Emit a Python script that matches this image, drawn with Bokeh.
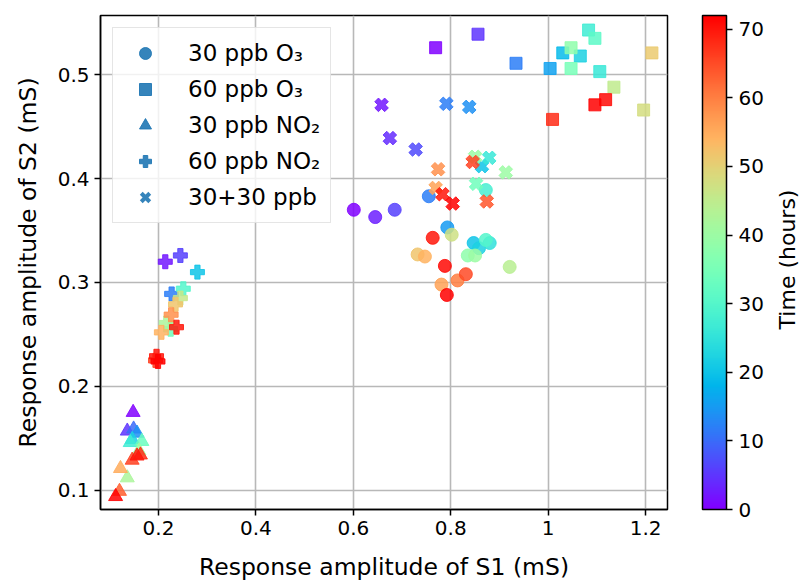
import numpy as np
from bokeh.plotting import figure
from bokeh.models import (ColumnDataSource, LinearColorMapper, ColorBar, FixedTicker,
                          Range1d, Legend, LegendItem, Title, Label)
from bokeh.transform import transform
from bokeh.embed import file_html
from bokeh.resources import INLINE

FONT = "DejaVu Sans"

# ---- data (S1, S2 in mS; time in hours) ----
o3_30_s1 = [0.601, 0.645, 0.685, 0.755, 0.793, 0.847, 0.858, 0.880, 0.872, 0.872, 0.835, 0.850, 0.921, 0.802, 0.732, 0.747, 0.781, 0.814, 0.831, 0.763, 0.788, 0.792]
o3_30_s2 = [0.370, 0.363, 0.370, 0.383, 0.353, 0.338, 0.333, 0.338, 0.389, 0.341, 0.326, 0.326, 0.315, 0.346, 0.327, 0.325, 0.298, 0.302, 0.308, 0.343, 0.316, 0.288]
o3_30_t = [0, 3, 6, 12, 15, 20, 22, 25, 28, 30, 38, 40, 44, 47, 52, 54, 56, 60, 65, 70, 71, 72]

o3_60_s1 = [0.769, 0.856, 0.934, 1.004, 1.030, 1.066, 1.106, 1.083, 1.096, 1.047, 1.047, 1.135, 1.196, 1.213, 1.009, 1.118, 1.096]
o3_60_s2 = [0.526, 0.539, 0.511, 0.506, 0.521, 0.518, 0.503, 0.543, 0.535, 0.506, 0.526, 0.488, 0.466, 0.521, 0.457, 0.476, 0.471]
o3_60_t = [0, 5, 12, 16, 19, 22, 26, 27, 31, 35, 38, 45, 48, 51, 68, 71, 72]

no2_30_s1 = [0.148, 0.136, 0.149, 0.156, 0.146, 0.142, 0.166, 0.160, 0.136, 0.122, 0.120, 0.146, 0.163, 0.156, 0.112]
no2_30_s2 = [0.175, 0.157, 0.159, 0.155, 0.149, 0.146, 0.147, 0.138, 0.112, 0.121, 0.099, 0.129, 0.134, 0.133, 0.094]
no2_30_t = [0, 5, 10, 14, 22, 27, 33, 41, 42, 55, 63, 66, 68, 70, 72]

no2_60_s1 = [0.214, 0.245, 0.227, 0.280, 0.251, 0.225, 0.216, 0.245, 0.235, 0.206, 0.226, 0.194, 0.237, 0.196, 0.199]
no2_60_s2 = [0.320, 0.326, 0.289, 0.310, 0.294, 0.255, 0.261, 0.285, 0.279, 0.252, 0.269, 0.225, 0.257, 0.229, 0.224]
no2_60_t = [2, 6, 12, 20, 30, 34, 42, 46, 52, 54, 58, 66, 70, 70, 72]

mix_s1 = [0.658, 0.675, 0.728, 0.791, 0.838, 0.864, 0.879, 0.852, 0.850, 0.913, 0.769, 0.774, 0.874, 0.845, 0.783, 0.804]
mix_s2 = [0.471, 0.439, 0.428, 0.472, 0.469, 0.412, 0.420, 0.395, 0.421, 0.406, 0.391, 0.409, 0.378, 0.416, 0.385, 0.376]
mix_t = [2, 4, 7, 12, 14, 20, 26, 34, 40, 40, 56, 58, 64, 66, 70, 72]

series_labels = ["30 ppb O\u2083", "60 ppb O\u2083", "30 ppb NO\u2082", "60 ppb NO\u2082", "30+30 ppb"]
x_ticks = [0.2, 0.4, 0.6, 0.8, 1.0, 1.2]
y_ticks = [0.1, 0.2, 0.3, 0.4, 0.5]
cb_ticks = [0, 10, 20, 30, 40, 50, 60, 70]
t_min, t_max = 0, 72
X_LO, X_HI = 0.081, 1.245
Y_LO, Y_HI = 0.0815, 0.557


def rainbow(n=256):
    xs = np.linspace(0, 1, n)
    r = np.clip(np.abs(2 * xs - 0.5), 0, 1)
    g = np.clip(np.sin(np.pi * xs), 0, 1)
    b = np.clip(np.cos(np.pi * xs / 2), 0, 1)
    return ["#%02x%02x%02x" % (int(round(a * 255)), int(round(c * 255)), int(round(d * 255)))
            for a, c, d in zip(r, g, b)]


mapper = LinearColorMapper(palette=rainbow(), low=t_min, high=t_max)

p = figure(width=802, height=583, output_backend="svg", toolbar_location=None,
           x_range=Range1d(X_LO, X_HI), y_range=Range1d(Y_LO, Y_HI),
           min_border_left=100, min_border_top=15, min_border_bottom=73, min_border_right=135)
p.background_fill_color = "white"
p.border_fill_color = "white"
p.outline_line_color = "black"
p.outline_line_width = 1.5

p.xgrid.ticker = FixedTicker(ticks=x_ticks)
p.ygrid.ticker = FixedTicker(ticks=y_ticks)
for g in (p.xgrid, p.ygrid):
    g.grid_line_color = "#b8b8b8"
    g.grid_line_width = 1.6

p.xaxis.ticker = FixedTicker(ticks=x_ticks)
p.yaxis.ticker = FixedTicker(ticks=y_ticks)
p.xaxis.axis_label = "Response amplitude of S1 (mS)"
p.yaxis.axis_label = "Response amplitude of S2 (mS)"
for ax in (p.xaxis, p.yaxis):
    ax.axis_label_text_font = FONT
    ax.axis_label_text_font_size = "23.5px"
    ax.axis_label_text_font_style = "normal"
    ax.axis_label_text_color = "black"
    ax.major_label_text_font = FONT
    ax.major_label_text_font_size = "20px"
    ax.major_label_text_color = "black"
    ax.minor_tick_line_color = None
    ax.major_tick_in = 0
    ax.major_tick_out = 6
    ax.major_tick_line_color = "black"
    ax.major_tick_line_width = 1.5
    ax.axis_line_color = "black"
    ax.axis_line_width = 1.5
    ax.major_label_standoff = 5
p.xaxis.axis_label_standoff = 15
p.yaxis.axis_label_standoff = 13

specs = [
    (o3_30_s1, o3_30_s2, o3_30_t, "circle", 13, 0.0),
    (o3_60_s1, o3_60_s2, o3_60_t, "square", 12, 0.0),
    (no2_30_s1, no2_30_s2, no2_30_t, "triangle", 14, 0.0),
    (no2_60_s1, no2_60_s2, no2_60_t, "plus", 14, 0.0),
    (mix_s1, mix_s2, mix_t, "plus", 14, np.pi / 4),
]
legend_markers = [("circle", 13, 1), ("square", 12, 1), ("triangle", 14, 1), ("plus", 14, 1), ("x", 10, 4)]

items = []
for (s1, s2, t, marker, size, ang), label, (lm, ls, lw) in zip(specs, series_labels, legend_markers):
    src = ColumnDataSource(dict(x=s1, y=s2, t=t))
    p.scatter("x", "y", source=src, marker=marker, size=size, angle=ang,
              fill_color=transform("t", mapper), line_color=transform("t", mapper),
              fill_alpha=0.85, line_alpha=0.85, line_width=1)
    # legend proxy, placed outside the visible range
    dummy = p.scatter(x=[-10.0], y=[-10.0], marker=lm, size=ls, line_width=lw,
                      fill_color="#1f77b4", line_color="#1f77b4", fill_alpha=0.9, line_alpha=0.9)
    items.append(LegendItem(label=label, renderers=[dummy]))

legend = Legend(items=items, location="top_left", margin=12,
                label_text_font=FONT, label_text_font_size="23px", label_text_color="black",
                glyph_width=44, glyph_height=30, label_height=30, spacing=6, padding=10,
                label_standoff=21, border_line_color="#cccccc", border_line_width=1.5,
                background_fill_alpha=0.8)
p.add_layout(legend, "center")

# spacer between frame and colour bar
p.add_layout(Title(text=" ", text_font_size="21px", standoff=10), "right")

cb = ColorBar(color_mapper=mapper, ticker=FixedTicker(ticks=cb_ticks), width=24,
              padding=0, major_label_text_font=FONT, major_label_text_font_size="20px",
              major_label_text_color="black", major_tick_in=0, major_tick_out=6,
              major_tick_line_color="black", major_tick_line_width=1.5,
              bar_line_color="black", bar_line_width=1.5, border_line_color=None,
              label_standoff=6, background_fill_color=None)
p.add_layout(cb, "right")

p.add_layout(Label(x=21, y=250, x_units="screen", y_units="screen", text="Time (hours)",
                   angle=np.pi / 2, text_align="center", text_baseline="middle",
                   text_font=FONT, text_font_size="22px", text_color="black"), "right")

open("out.html", "w").write(file_html(p, INLINE))
